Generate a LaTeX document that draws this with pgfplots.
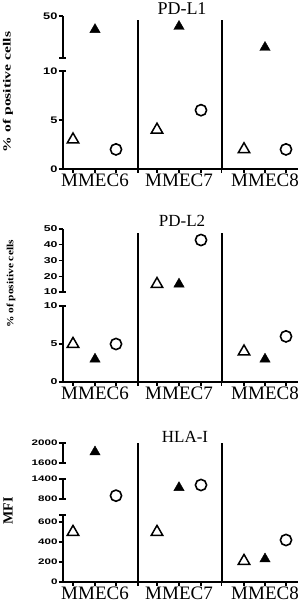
\documentclass[border=0pt]{standalone}
\usepackage{pgfplots}
\pgfplotsset{compat=1.18}
\usepackage{fontspec}
\setmainfont{Liberation Serif}
\newfontfamily\tickfont{Liberation Sans}
\newcommand{\ta}[1]{\scalebox{1.35}[1]{\fontsize{9.5}{9.5}\selectfont\tickfont\bfseries #1}}
\newcommand{\tb}[1]{\scalebox{1.45}[1]{\fontsize{8.5}{8.5}\selectfont\tickfont\bfseries #1}}
\newcommand{\tc}[1]{\scalebox{1.45}[1]{\fontsize{8}{8}\selectfont\tickfont\bfseries #1}}
\pgfplotsset{
  seg/.style={scale only axis, width=234.8pt, xmin=62.7, xmax=297.5, clip=false,
    axis y line*=left, y axis line style={line width=1.6pt},
    ytick style={line width=1.4pt, black}, tick align=outside, major tick length=4pt,
    yticklabel style={anchor=east, inner sep=1pt}},
  upper/.style={seg, axis x line=none},
  lower/.style={seg, axis x line*=bottom, x axis line style={line width=1.6pt},
    xtick={73,95,116,138,157,179,201,221.5,244,265,286},
    xticklabels={,MMEC6,,,,MMEC7,,,,MMEC8,},
    xtick style={line width=1.4pt, black},
    xticklabel style={font=\fontsize{19}{19}\selectfont, inner sep=0pt, yshift=-0.5pt}},
  otri/.style={only marks, mark=triangle, mark size=6.6pt, mark options={line width=1.5pt, fill=white, draw=black}},
  ftri/.style={only marks, mark=triangle*, mark size=6pt, mark options={fill=black, draw=black, line width=0.4pt}},
  ocirc/.style={only marks, mark=o, mark size=5.6pt, mark options={line width=1.6pt, draw=black}},
}
\newcommand{\capat}[1]{\draw[line width=1.4pt] ([xshift=-3.5pt]axis cs:62.7,#1) -- ([xshift=3.5pt]axis cs:62.7,#1);}
\begin{document}
\begin{tikzpicture}
\useasboundingbox (0,0) rectangle (300pt,604pt);
% ---------------- PD-L1
\begin{axis}[upper, at={(62.7pt,546pt)}, anchor=south west, height=42pt,
  ymin=10, ymax=50, ytick={50}, yticklabels={\ta{50}}]
\addplot[ftri] coordinates {(95,37) (179,40) (265,20)};
\capat{10}
\end{axis}
\begin{axis}[lower, at={(62.7pt,435pt)}, anchor=south west, height=98pt,
  ymin=0, ymax=10, ytick={0,5,10}, yticklabels={\ta{0},\ta{5},\ta{10}}]
\addplot[otri] coordinates {(73,3) (157,4) (244,2)};
\addplot[ocirc] coordinates {(116,2) (201,6) (286,2)};
\draw[line width=2pt] (axis cs:138,0) -- (axis cs:138,15.2);
\draw[line width=2pt] (axis cs:221.5,0) -- (axis cs:221.5,15.2);
\capat{10}
\end{axis}
\node[anchor=base, font=\fontsize{18}{18}\selectfont] at (182pt,589pt) {PD-L1};
\node[rotate=90] at (8pt,512pt) {\scalebox{1.42}[1]{\fontsize{11}{11}\selectfont\bfseries\% of positive cells}};
% ---------------- PD-L2
\begin{axis}[upper, at={(62.7pt,312pt)}, anchor=south west, height=63pt,
  ymin=10, ymax=50, ytick={10,20,30,40,50}, yticklabels={\tb{10},\tb{20},\tb{30},\tb{40},\tb{50}}]
\addplot[otri] coordinates {(157,15)};
\addplot[ftri] coordinates {(179,15)};
\addplot[ocirc] coordinates {(201,43)};
\capat{10}
\end{axis}
\begin{axis}[lower, at={(62.7pt,222pt)}, anchor=south west, height=76pt,
  ymin=0, ymax=10, ytick={0,5,10}, yticklabels={\tb{0},\tb{5},\tb{10}}]
\addplot[otri] coordinates {(73,5) (244,4)};
\addplot[ftri] coordinates {(95,3) (265,3)};
\addplot[ocirc] coordinates {(116,5) (286,6)};
\draw[line width=2pt] (axis cs:138,0) -- (axis cs:138,19.6);
\draw[line width=2pt] (axis cs:221.5,0) -- (axis cs:221.5,19.6);
\capat{10}
\end{axis}
\node[anchor=base, font=\fontsize{17}{17}\selectfont] at (182pt,377pt) {PD-L2};
\node[rotate=90] at (11pt,320pt) {\scalebox{1.2}[1]{\fontsize{9.5}{9.5}\selectfont\bfseries\% of positive cells}};
% ---------------- HLA-I
\begin{axis}[upper, at={(62.7pt,141pt)}, anchor=south west, height=20pt,
  ymin=1600, ymax=2000, ytick={1600,2000}, yticklabels={\tc{1600},\tc{2000}}]
\addplot[ftri] coordinates {(95,1820)};
\capat{1600}\capat{2000}
\end{axis}
\begin{axis}[upper, at={(62.7pt,105pt)}, anchor=south west, height=20pt,
  ymin=800, ymax=1400, ytick={800,1400}, yticklabels={\tc{800},\tc{1400}}]
\addplot[ftri] coordinates {(179,1140)};
\addplot[ocirc] coordinates {(116,900) (201,1220)};
\capat{800}\capat{1400}
\end{axis}
\begin{axis}[lower, at={(62.7pt,22pt)}, anchor=south west, height=67pt,
  ymin=0, ymax=670, ytick={0,200,400,600}, yticklabels={\tc{0},\tc{200},\tc{400},\tc{600}}]
\addplot[otri] coordinates {(73,500) (157,500) (244,210)};
\addplot[ftri] coordinates {(265,230)};
\addplot[ocirc] coordinates {(286,420)};
\draw[line width=2pt] (axis cs:138,0) -- (axis cs:138,1390);
\draw[line width=2pt] (axis cs:221.5,0) -- (axis cs:221.5,1390);
\capat{670}
\end{axis}
\node[anchor=base, font=\fontsize{17}{17}\selectfont] at (185pt,161pt) {HLA-I};
\node[rotate=90] at (8pt,93pt) {\fontsize{14}{14}\selectfont\bfseries MFI};
\end{tikzpicture}
\end{document}
